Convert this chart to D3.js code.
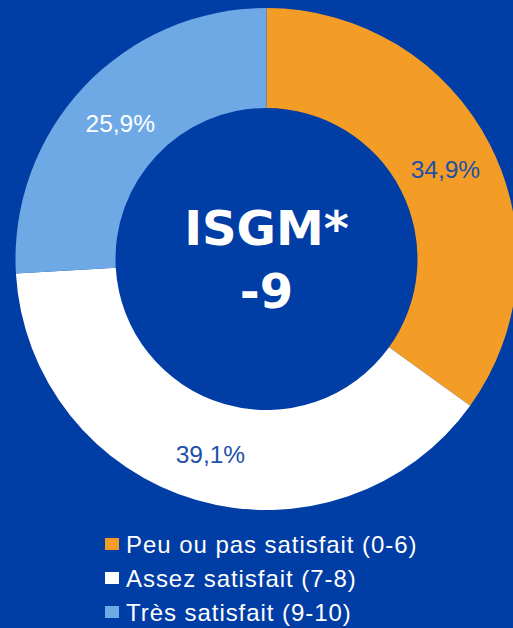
<!DOCTYPE html>
<html>
<head>
<meta charset="utf-8">
<script src="https://cdn.jsdelivr.net/npm/d3@7"></script>
<style>
  html, body { margin: 0; padding: 0; background: #003da5; }
  svg { display: block; }
</style>
</head>
<body>
<svg id="svg_donut" width="513" height="628"></svg>
<script>

// Data
const categories = ["Peu ou pas satisfait (0-6)", "Assez satisfait (7-8)", "Très satisfait (9-10)"],
    values = [34.9, 39.1, 25.9],
    value_labels = ["34,9%", "39,1%", "25,9%"],
    center_lines = ["ISGM*", "-9"];

// Colors
const my_bg = "#003da5",
    slice_colors = ["#f39d26", "#ffffff", "#6ea9e6"],
    label_colors = ["#2050a8", "#2050a8", "#ffffff"];

const svg = d3.select("#svg_donut");

const cx = 266.5,
    cy = 259,
    r_outer = 251,
    r_inner = 151;

const pie = d3.pie().sort(null).value(d => d);
const arc = d3.arc().innerRadius(r_inner).outerRadius(r_outer);
const label_arc = d3.arc().innerRadius(201).outerRadius(201);

const donut = svg.append("g")
    .attr("transform", `translate(${cx},${cy})`);

const arcs = pie(values);

donut.selectAll("path")
    .data(arcs)
    .enter().append("path")
    .attr("d", arc)
    .attr("fill", (d, i) => slice_colors[i]);

// Slice labels
donut.selectAll("text.val")
    .data(arcs)
    .enter().append("text")
    .attr("class", "val")
    .attr("transform", d => {
        const c = label_arc.centroid(d);
        return `translate(${c[0]},${c[1] + 2})`;
    })
    .attr("text-anchor", "middle")
    .attr("dy", "0.35em")
    .attr("font-family", "'Liberation Sans', Arial, sans-serif")
    .attr("font-size", 24.5)
    .attr("fill", (d, i) => label_colors[i])
    .text((d, i) => value_labels[i]);

// Center text
donut.selectAll("text.center")
    .data(center_lines)
    .enter().append("text")
    .attr("class", "center")
    .attr("x", 0)
    .attr("y", (d, i) => -14 + i * 63)
    .attr("text-anchor", "middle")
    .attr("font-family", "'DejaVu Sans', sans-serif")
    .attr("font-weight", "bold")
    .attr("font-size", 48)
    .attr("fill", "#ffffff")
    .text(d => d);

// Legend
const legend = svg.append("g")
    .attr("class", "legend");

const rows = legend.selectAll("g")
    .data(categories)
    .enter().append("g")
    .attr("transform", (d, i) => `translate(105,${553 + i * 34})`);

rows.append("rect")
    .attr("x", 0)
    .attr("y", -15)
    .attr("width", 14)
    .attr("height", 12)
    .attr("fill", (d, i) => slice_colors[i]);

rows.append("text")
    .attr("x", 21)
    .attr("y", 0)
    .attr("font-family", "'Liberation Sans', Arial, sans-serif")
    .attr("font-size", 24)
    .attr("letter-spacing", 0.95)
    .attr("fill", "#ffffff")
    .text(d => d);

</script>
</body>
</html>
